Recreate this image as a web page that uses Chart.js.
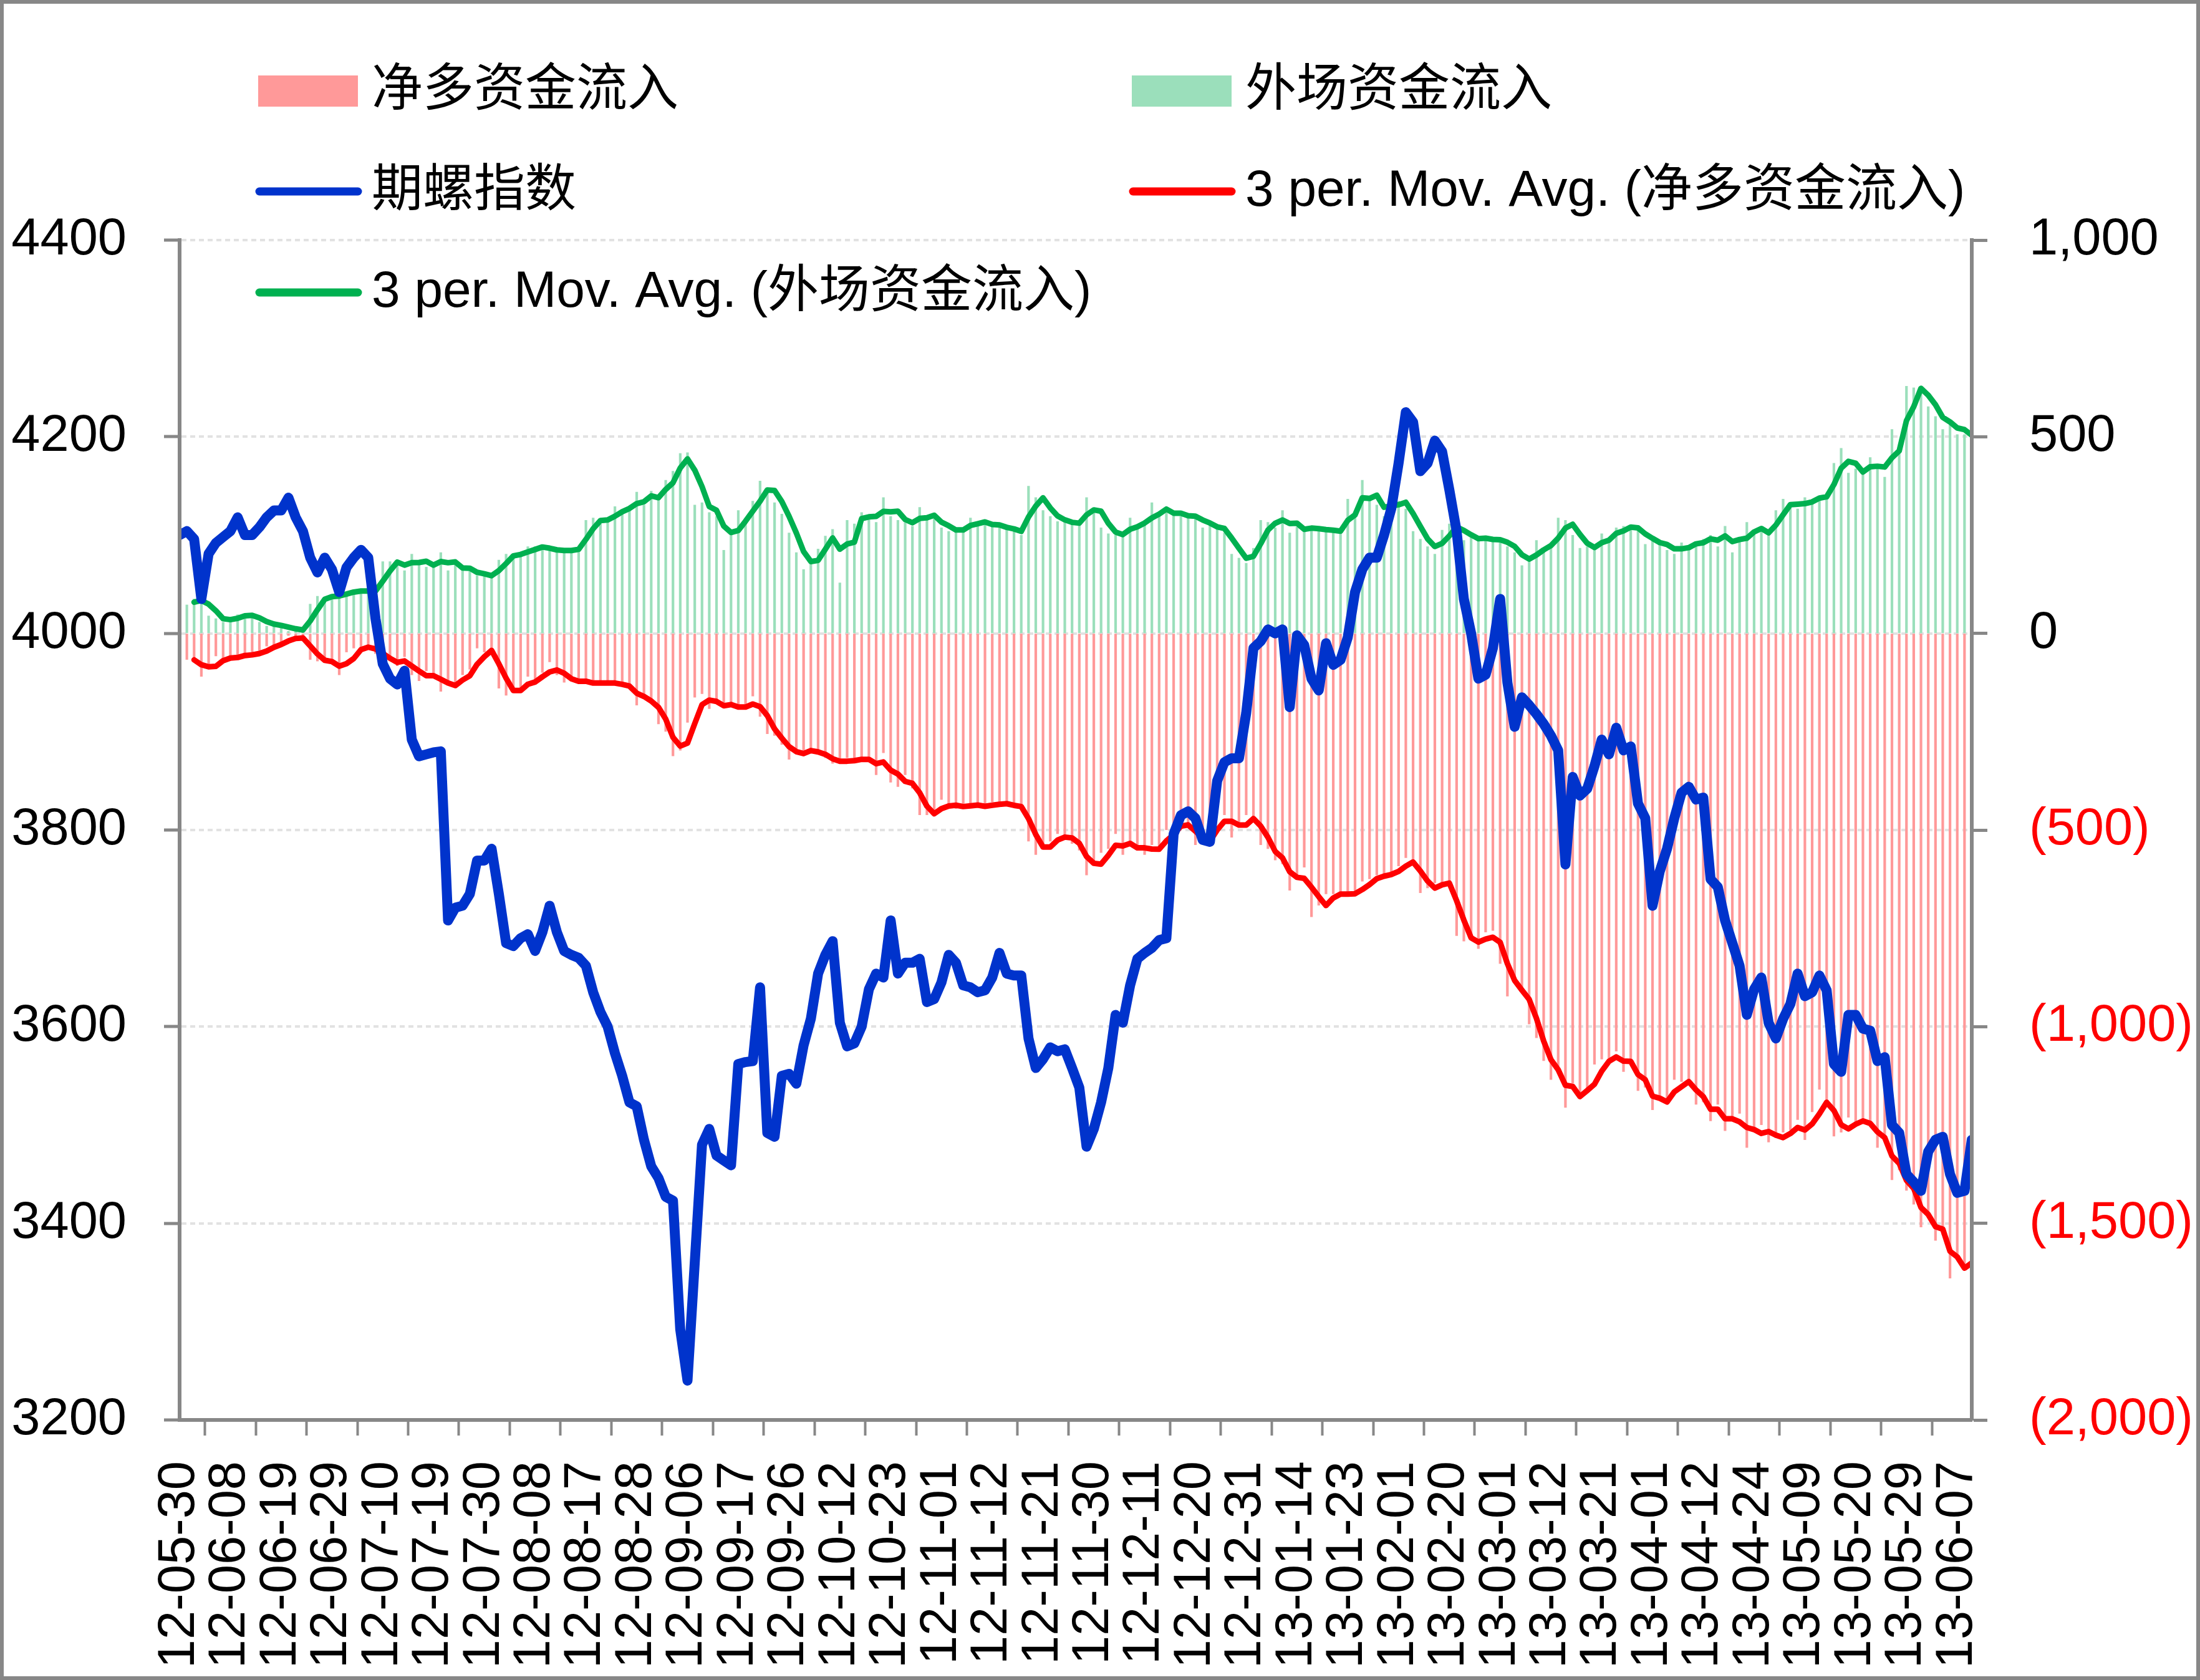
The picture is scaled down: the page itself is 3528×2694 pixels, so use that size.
<!DOCTYPE html>
<html>
<head>
<meta charset="utf-8">
<script src="https://cdn.jsdelivr.net/npm/chart.js@4.4.1/dist/chart.umd.min.js"></script>
<style>
  html, body { margin: 0; padding: 0; background: #fff; }
  canvas { display: block; }
</style>
</head>
<body>
<canvas id="c" width="3528" height="2694" style="width:3528px;height:2694px"></canvas>
<script>
// ---------- DATA ----------
const tickLabels = ['12-05-30','12-06-08','12-06-19','12-06-29','12-07-10','12-07-19','12-07-30','12-08-08','12-08-17','12-08-28',
  '12-09-06','12-09-17','12-09-26','12-10-12','12-10-23','12-11-01','12-11-12','12-11-21','12-11-30','12-12-11',
  '12-12-20','12-12-31','13-01-14','13-01-23','13-02-01','13-02-20','13-03-01','13-03-12','13-03-21','13-04-01',
  '13-04-12','13-04-24','13-05-09','13-05-20','13-05-29','13-06-07'];

// 期螺指数 (left axis)
const indexValues = [
  4100,4104,4096,4035,4081,4092,4098,4104,4118,4100,
  4100,4108,4118,4125,4125,4138,4118,4104,4077,4062,
  4077,4065,4042,4067,4077,4085,4077,4015,3969,3954,
  3948,3962,3892,3875,3877,3879,3880,3708,3721,3723,
  3735,3769,3769,3781,3735,3685,3682,3690,3694,3677,
  3696,3723,3696,3677,3673,3670,3662,3635,3615,3600,
  3573,3550,3523,3519,3485,3458,3446,3427,3423,3292,
  3240,3360,3480,3496,3469,3464,3459,3562,3564,3565,
  3640,3492,3488,3550,3552,3542,3581,3608,3654,3673,
  3687,3604,3580,3583,3600,3638,3654,3650,3708,3654,
  3665,3665,3669,3625,3628,3645,3673,3665,3642,3640,
  3635,3637,3650,3675,3654,3652,3652,3588,3558,3567,
  3579,3575,3577,3558,3538,3478,3496,3523,3558,3612,
  3604,3642,3669,3675,3680,3688,3690,3796,3815,3819,
  3812,3790,3788,3850,3869,3873,3873,3919,3985,3992,
  4004,4000,4004,3925,3998,3988,3954,3942,3990,3968,
  3973,3996,4042,4065,4077,4077,4100,4127,4173,4225,
  4215,4165,4173,4196,4185,4146,4104,4035,4000,3954,
  3958,3985,4035,3950,3905,3935,3927,3918,3908,3896,
  3881,3765,3854,3835,3842,3865,3892,3877,3904,3881,
  3885,3827,3812,3723,3758,3781,3812,3838,3844,3831,
  3833,3750,3742,3708,3685,3662,3612,3638,3650,3604,
  3588,3608,3623,3654,3631,3635,3652,3637,3562,3554,
  3612,3612,3598,3596,3565,3569,3500,3492,3450,3442,
  3433,3473,3485,3488,3450,3431,3433,3485
];

// 净多资金流入 (right axis)
const netLongInflow = [
  -73,-67,-62,-110,-83,-58,-67,-63,-54,-52,
  -58,-44,-33,-29,-23,-6,-10,-19,-67,-71,
  -67,-77,-106,-48,-38,-38,-29,-52,-71,-67,
  -83,-60,-106,-121,-96,-106,-148,-125,-125,-106,
  -92,-38,-48,-44,-140,-158,-138,-140,-110,-121,
  -100,-73,-106,-125,-115,-125,-125,-129,-125,-125,
  -129,-135,-138,-183,-160,-173,-231,-250,-312,-298,
  -227,-163,-154,-192,-173,-187,-183,-192,-187,-160,
  -212,-256,-260,-283,-321,-298,-298,-298,-308,-317,
  -331,-327,-317,-327,-317,-317,-360,-304,-379,-390,
  -360,-394,-462,-462,-452,-423,-442,-446,-433,-437,
  -440,-442,-429,-433,-437,-442,-442,-529,-563,-538,
  -529,-510,-515,-535,-552,-615,-587,-558,-548,-510,
  -563,-529,-544,-563,-538,-545,-500,-490,-481,-490,
  -538,-529,-519,-452,-462,-519,-481,-462,-470,-538,
  -548,-577,-587,-654,-620,-595,-721,-692,-663,-663,
  -663,-663,-660,-631,-625,-615,-612,-612,-592,-571,
  -581,-660,-648,-635,-635,-635,-769,-783,-770,-802,
  -760,-756,-840,-923,-885,-913,-994,-1029,-1087,-1135,
  -1106,-1206,-1144,-1183,-1160,-1096,-1083,-1085,-1063,-1115,
  -1087,-1163,-1155,-1212,-1179,-1183,-1135,-1140,-1144,-1198,
  -1192,-1240,-1198,-1265,-1240,-1221,-1308,-1256,-1250,-1294,
  -1283,-1269,-1263,-1237,-1288,-1217,-1160,-1200,-1279,-1269,
  -1231,-1244,-1244,-1250,-1308,-1288,-1390,-1365,-1417,-1452,
  -1510,-1471,-1544,-1529,-1640,-1587,-1615,-1600
];

// 外场资金流入 (right axis)
const outsideInflow = [
  77,73,88,90,45,38,29,38,48,48,
  42,29,19,23,19,6,10,10,75,95,
  90,95,100,105,110,108,105,110,183,183,
  178,160,202,179,169,173,206,160,179,160,
  158,148,148,144,187,202,202,198,221,221,
  217,212,208,212,212,217,288,294,279,292,
  323,313,317,360,327,362,346,390,413,458,
  460,327,333,308,298,212,260,313,283,337,
  388,369,333,304,256,206,163,179,215,248,
  265,129,288,279,308,302,283,346,298,288,
  283,273,321,288,292,269,260,260,269,294,
  273,283,275,269,265,263,250,375,346,313,
  298,285,283,279,279,346,317,269,254,250,
  250,294,269,279,333,298,317,302,298,298,
  298,269,275,269,256,202,192,179,217,288,
  283,269,313,256,271,267,265,267,260,260,
  260,342,302,390,337,327,298,346,337,317,
  260,240,221,202,263,279,269,237,246,240,
  240,237,237,221,206,173,188,237,212,221,
  294,288,250,217,221,217,254,240,269,273,
  269,263,227,235,231,212,202,231,221,231,
  240,250,221,273,206,237,283,254,263,250,
  313,342,327,317,346,340,346,356,433,471,
  408,419,404,448,423,398,519,475,629,625,
  615,577,552,519,542,506,506,500
];

const seriesNames = ['期螺指数', '3 per. Mov. Avg. (净多资金流入)', '3 per. Mov. Avg. (外场资金流入)', '净多资金流入', '外场资金流入'];

// ---------- helpers ----------
const FONT = "'Liberation Sans', Arial, 'Noto Sans CJK SC', sans-serif";
const TICK = 7; // one labelled tick every 7 trading days
const positions = indexValues.map((_, i) => i);

// Excel "3 per. Mov. Avg." trendline of a series
function movingAverage(values, period) {
  return values.map((v, i) => {
    if (i < period - 1) return null;
    let s = 0;
    for (let k = i - period + 1; k <= i; k++) s += values[k];
    return s / period;
  });
}
function fmtRight(v) {
  const s = String(Math.abs(v)).replace(/\B(?=(\d{3})+(?!\d))/g, ',');
  return v < 0 ? '(' + s + ')' : s;
}

const GRAY = '#878787';

const frame = {
  id: 'frame',
  beforeDraw(chart) {
    const c = chart.ctx;
    c.save();
    c.fillStyle = '#fff';
    c.fillRect(0, 0, chart.width, chart.height);
    c.restore();
  },
  afterDraw(chart) {
    const c = chart.ctx;
    c.save();
    c.strokeStyle = GRAY;
    c.lineWidth = 6;
    c.strokeRect(3, 3, chart.width - 6, chart.height - 6);
    c.restore();
  }
};

const excelLegend = {
  id: 'excelLegend',
  afterDraw(chart) {
    const c = chart.ctx;
    const ds = chart.data.datasets;
    const items = [
      { d: ds[3], box: true,  x: 414,  y: 146 },
      { d: ds[4], box: true,  x: 1815, y: 146 },
      { d: ds[0], box: false, x: 414,  y: 307 },
      { d: ds[1], box: false, x: 1815, y: 307 },
      { d: ds[2], box: false, x: 414,  y: 469 }
    ];
    c.save();
    c.font = '82px ' + FONT;
    c.textBaseline = 'middle';
    c.textAlign = 'left';
    items.forEach(it => {
      if (it.box) {
        c.fillStyle = it.d.backgroundColor;
        c.fillRect(it.x, it.y - 25, 160, 50);
      } else {
        c.strokeStyle = it.d.borderColor;
        c.lineWidth = 13;
        c.lineCap = 'round';
        c.beginPath();
        c.moveTo(it.x + 2, it.y);
        c.lineTo(it.x + 160, it.y);
        c.stroke();
      }
      c.fillStyle = '#000';
      c.fillText(it.d.label, it.x + 182, it.y);
    });
    c.restore();
  }
};

new Chart(document.getElementById('c'), {
  type: 'bar',
  data: {
    labels: positions,
    datasets: [
      { type: 'line', label: seriesNames[0], data: indexValues, yAxisID: 'y',
        borderColor: '#0033CC', borderWidth: 16, pointRadius: 0, tension: 0,
        borderJoinStyle: 'round', borderCapStyle: 'round', order: 0 },
      { type: 'line', label: seriesNames[1], data: movingAverage(netLongInflow, 3), yAxisID: 'y1',
        borderColor: '#FF0000', borderWidth: 9, pointRadius: 0, tension: 0,
        borderJoinStyle: 'round', borderCapStyle: 'round', order: 1 },
      { type: 'line', label: seriesNames[2], data: movingAverage(outsideInflow, 3), yAxisID: 'y1',
        borderColor: '#00B050', borderWidth: 9, pointRadius: 0, tension: 0,
        borderJoinStyle: 'round', borderCapStyle: 'round', order: 2 },
      { type: 'bar', label: seriesNames[3], data: netLongInflow, yAxisID: 'y1',
        backgroundColor: '#FF9999', borderWidth: 0, grouped: false,
        barPercentage: 0.36, categoryPercentage: 1, order: 3 },
      { type: 'bar', label: seriesNames[4], data: outsideInflow, yAxisID: 'y1',
        backgroundColor: '#9BDFBB', borderWidth: 0, grouped: false,
        barPercentage: 0.36, categoryPercentage: 1, order: 4 }
    ]
  },
  options: {
    responsive: false,
    devicePixelRatio: 1,
    animation: false,
    events: [],
    layout: { padding: { top: 385, left: 0, right: 0, bottom: 0 } },
    plugins: { legend: { display: false }, tooltip: { enabled: false } },
    scales: {
      x: {
        type: 'linear', position: 'bottom', min: 0, max: positions.length - 1,
        offset: false,
        afterFit(s) { s.height = 2694 - 2277; },
        ticks: {
          stepSize: TICK, autoSkip: false, includeBounds: false,
          minRotation: 90, maxRotation: 90, padding: 41,
          color: '#000', font: { family: FONT, size: 83 },
          callback: v => (v % TICK === 0 && tickLabels[v / TICK] !== undefined) ? tickLabels[v / TICK] : null
        },
        grid: { drawOnChartArea: false, drawTicks: true, tickLength: 25, tickWidth: 4, tickColor: GRAY, color: GRAY },
        border: { display: true, color: GRAY, width: 6, z: 1 }
      },
      y: {
        position: 'left', min: 3200, max: 4400,
        afterFit(s) { s.width = 288; },
        ticks: { stepSize: 200, padding: 60, color: '#000', font: { family: FONT, size: 83 },
          callback: v => String(v) },
        grid: { color: '#e2e2e2', lineWidth: 4, drawTicks: true, tickLength: 25, tickWidth: 5, tickColor: GRAY },
        border: { display: true, color: GRAY, width: 6, dash: [8, 6], z: 1 }
      },
      y1: {
        position: 'right', min: -2000, max: 1000,
        afterFit(s) { s.width = 3528 - 3162; },
        ticks: {
          stepSize: 500, padding: 67, font: { family: FONT, size: 83 },
          color: ctx => (ctx.tick && ctx.tick.value < 0) ? '#FF0000' : '#000',
          callback: v => fmtRight(v)
        },
        grid: { drawOnChartArea: false, drawTicks: true, tickLength: 25, tickWidth: 5, tickColor: GRAY },
        border: { display: true, color: GRAY, width: 6, z: 1 }
      }
    }
  },
  plugins: [frame, excelLegend]
});
</script>
</body>
</html>
